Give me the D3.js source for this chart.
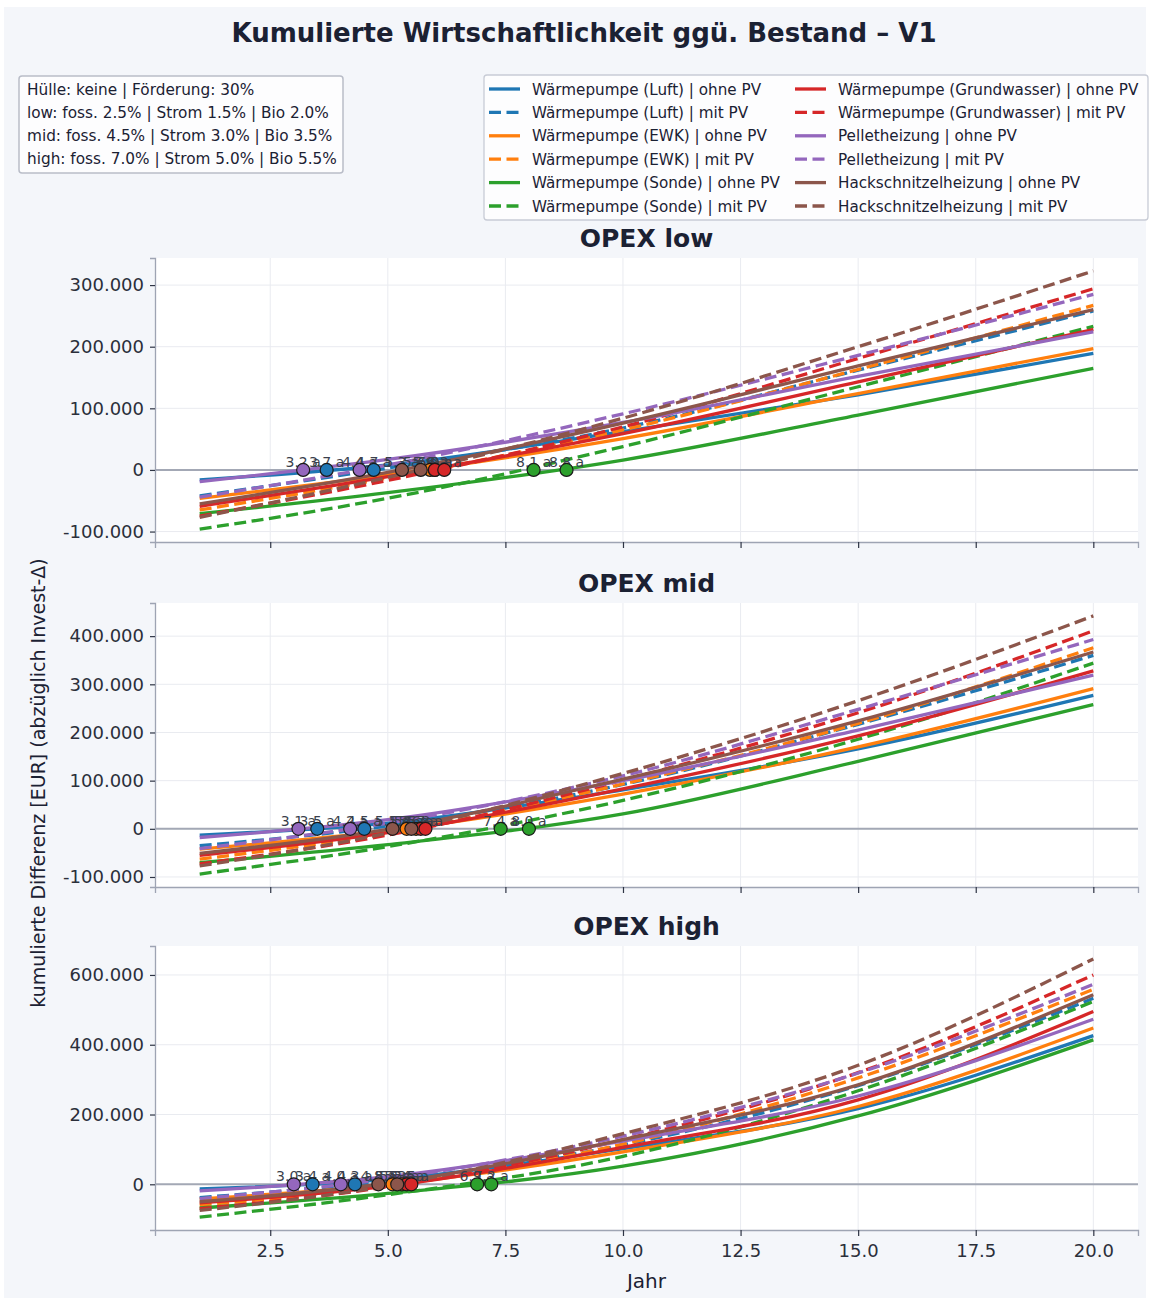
<!DOCTYPE html>
<html>
<head>
<meta charset="utf-8">
<script src="https://cdn.jsdelivr.net/npm/d3@7"></script>
<style>
  body { margin: 0; background: #fff; }
  svg { display: block; font-family: "DejaVu Sans", sans-serif; }
</style>
</head>
<body>
<svg id="chart"></svg>
<script>
// --- data (values in 1000 EUR) ---
const years = [1, 5, 10, 15, 20];
const systems = ['Wärmepumpe (Luft)', 'Wärmepumpe (EWK)', 'Wärmepumpe (Sonde)',
  'Wärmepumpe (Grundwasser)', 'Pelletheizung', 'Hackschnitzelheizung'];
const pvVariants = ['ohne PV', 'mit PV'];
const scenarioNames = ['OPEX low', 'OPEX mid', 'OPEX high'];
const infoLines = [
  'Hülle: keine | Förderung: 30%',
  'low: foss. 2.5% | Strom 1.5% | Bio 2.0%',
  'mid: foss. 4.5% | Strom 3.0% | Bio 3.5%',
  'high: foss. 7.0% | Strom 5.0% | Bio 5.5%'
];

// rows: system x variant (ohne, mit), columns: years
const opexLow = [
  [-16, 8, 62, 122, 189],
  [-42, 3, 68, 162, 258],
  [-46, -8, 51, 124, 197],
  [-65, -13, 65, 163, 267],
  [-71, -37, 16, 89, 165],
  [-96, -46, 38, 135, 233],
  [-59, -11, 59, 143, 228],
  [-75, -17, 70, 181, 294],
  [-19, 17, 77, 152, 224],
  [-44, 8, 91, 186, 285],
  [-55, -4, 76, 169, 260],
  [-77, -12, 84, 200, 323]
];
const opexMid = [
  [-13, 12, 81, 166, 277],
  [-35, 6, 92, 217, 360],
  [-42, -4, 72, 170, 291],
  [-63, -9, 93, 219, 376],
  [-70, -33, 31, 140, 258],
  [-94, -37, 59, 186, 344],
  [-55, -8, 83, 193, 328],
  [-73, -13, 101, 241, 411],
  [-18, 19, 100, 205, 319],
  [-41, 12, 110, 248, 393],
  [-51, -1, 103, 224, 367],
  [-77, -9, 115, 266, 442]
];
const opexHigh = [
  [-13, 14, 102, 217, 426],
  [-38, 10, 113, 283, 533],
  [-42, -1, 93, 223, 448],
  [-60, -4, 115, 305, 559],
  [-68, -26, 52, 196, 414],
  [-94, -30, 80, 268, 524],
  [-53, -5, 106, 242, 495],
  [-70, -7, 128, 320, 600],
  [-19, 22, 124, 253, 473],
  [-41, 16, 138, 319, 573],
  [-50, 3, 128, 285, 543],
  [-75, -4, 145, 341, 646]
];

// amortisation year (crossing of zero), same row order
const breakEvenLow = [3.7, 4.7, 5.9, 6.0, 8.8, 8.1, 6.0, 6.2, 3.2, 4.4, 5.3, 5.7];
const breakEvenMid = [3.5, 4.5, 5.4, 5.6, 8.0, 7.4, 5.7, 5.8, 3.1, 4.2, 5.1, 5.5];
const breakEvenHigh = [3.4, 4.3, 5.1, 5.3, 7.2, 6.9, 5.4, 5.5, 3.0, 4.0, 4.8, 5.2];

const colors = ['#1f77b4', '#ff7f0e', '#2ca02c', '#d62728', '#9467bd', '#8c564b'];

const W = 1150, H = 1301;
const svg = d3.select('#chart').attr('width', W).attr('height', H);

svg.append('rect')
  .attr('x', 4).attr('y', 7).attr('width', W - 8).attr('height', H - 10)
  .attr('fill', '#f4f6fa');

const de = d3.formatLocale({ decimal: ',', thousands: '.', grouping: [3], currency: ['', ' €'], minus: '-' });
const fmtY = de.format(',.0f');
const fmtX = d3.format('.1f');

const series = [];
systems.forEach((s, i) => pvVariants.forEach((v, j) => {
  series.push({ name: `${s} | ${v}`, color: colors[i], dashed: j === 1 });
}));

const panels = [
  { title: scenarioNames[0], values: opexLow, be: breakEvenLow, top: 258 },
  { title: scenarioNames[1], values: opexMid, be: breakEvenMid, top: 603 },
  { title: scenarioNames[2], values: opexHigh, be: breakEvenHigh, top: 946 }
];
const left = 155, right = 1138, ph = 284;
const dash = '12,5.5';

const x = d3.scaleLinear().domain([0.05, 20.95]).range([left, right]);
const xTicks = [2.5, 5, 7.5, 10, 12.5, 15, 17.5, 20];

panels.forEach((p, pi) => {
  const all = p.values.flat().map(v => v * 1000);
  const [lo, hi] = d3.extent(all);
  const pad = (hi - lo) * 0.05;
  const y = d3.scaleLinear().domain([lo - pad, hi + pad]).range([p.top + ph, p.top]);
  const g = svg.append('g');

  g.append('rect')
    .attr('x', left).attr('y', p.top).attr('width', right - left).attr('height', ph)
    .attr('fill', '#fff');

  // grid
  g.selectAll('.gx').data(xTicks).join('line')
    .attr('x1', d => x(d)).attr('x2', d => x(d))
    .attr('y1', p.top).attr('y2', p.top + ph)
    .attr('stroke', '#e9ebf0').attr('stroke-width', 1);
  g.selectAll('.gy').data(y.ticks(5)).join('line')
    .attr('x1', left).attr('x2', right)
    .attr('y1', d => y(d)).attr('y2', d => y(d))
    .attr('stroke', '#e9ebf0').attr('stroke-width', 1);

  // zero line
  g.append('line')
    .attr('x1', left).attr('x2', right)
    .attr('y1', y(0)).attr('y2', y(0))
    .attr('stroke', '#a3a8b5').attr('stroke-width', 2);

  const line = d3.line()
    .x((d, i) => x(years[i]))
    .y(d => y(d * 1000))
    .curve(d3.curveMonotoneX);

  g.selectAll('.series').data(series).join('path')
    .attr('d', (d, i) => line(p.values[i]))
    .attr('fill', 'none')
    .attr('stroke', d => d.color)
    .attr('stroke-width', 3.3)
    .attr('stroke-dasharray', d => d.dashed ? dash : null);

  // break-even labels and markers
  g.selectAll('.belabel').data(series).join('text')
    .attr('x', (d, i) => x(p.be[i]))
    .attr('y', y(0) - 3)
    .attr('text-anchor', 'middle')
    .attr('font-size', 14)
    .attr('fill', '#3a3f4c')
    .text((d, i) => `${fmtX(p.be[i])} a`);
  g.selectAll('.bemark').data(series).join('circle')
    .attr('cx', (d, i) => x(p.be[i]))
    .attr('cy', y(0))
    .attr('r', 6.5)
    .attr('fill', d => d.color)
    .attr('stroke', '#1a1a1a')
    .attr('stroke-width', 1.2);

  // axes
  const yAxis = d3.axisLeft(y).ticks(5).tickFormat(fmtY).tickSize(5).tickPadding(6);
  const ya = g.append('g').attr('transform', `translate(${left},0)`).call(yAxis);
  const xAxis = d3.axisBottom(x).tickValues(xTicks).tickFormat(pi === 2 ? fmtX : '').tickSize(6).tickPadding(8);
  const xa = g.append('g').attr('transform', `translate(0,${p.top + ph})`).call(xAxis);
  [ya, xa].forEach(a => {
    a.select('.domain').attr('stroke', '#9ea4b3').attr('stroke-width', 1.3);
    a.selectAll('.tick line').attr('stroke', '#2e3444').attr('stroke-width', 1.2);
    a.selectAll('.tick text').attr('font-size', 18).attr('fill', '#2b2f3a')
      .attr('font-family', '"DejaVu Sans", sans-serif');
  });

  svg.append('text')
    .attr('x', (left + right) / 2).attr('y', p.top - 11)
    .attr('text-anchor', 'middle')
    .attr('font-size', 25).attr('font-weight', 'bold').attr('fill', '#1b2133')
    .text(p.title);
});

// title
svg.append('text')
  .attr('x', 584).attr('y', 42)
  .attr('text-anchor', 'middle')
  .attr('font-size', 26).attr('font-weight', 'bold').attr('fill', '#1b2133')
  .text('Kumulierte Wirtschaftlichkeit ggü. Bestand – V1');

// axis labels
svg.append('text')
  .attr('transform', 'translate(45,783) rotate(-90)')
  .attr('text-anchor', 'middle')
  .attr('font-size', 19).attr('fill', '#1b2133')
  .text('kumulierte Differenz [EUR] (abzüglich Invest-Δ)');
svg.append('text')
  .attr('x', (left + right) / 2).attr('y', 1288)
  .attr('text-anchor', 'middle')
  .attr('font-size', 20).attr('fill', '#1b2133')
  .text('Jahr');

// info box
const info = svg.append('g');
info.append('rect')
  .attr('x', 19).attr('y', 76).attr('width', 324).attr('height', 97).attr('rx', 3)
  .attr('fill', '#fdfdfe').attr('stroke', '#b9bdc8').attr('stroke-width', 1.5);
info.selectAll('text').data(infoLines).join('text')
  .attr('x', 27).attr('y', (d, i) => 94.5 + i * 23.3)
  .attr('font-size', 15.3).attr('fill', '#1b2133')
  .text(d => d);

// legend
const leg = svg.append('g');
leg.append('rect')
  .attr('x', 484).attr('y', 75).attr('width', 664).attr('height', 145).attr('rx', 3)
  .attr('fill', '#fdfdfe').attr('stroke', '#c8ccd6').attr('stroke-width', 1.3);
const items = leg.selectAll('.item').data(series).join('g')
  .attr('transform', (d, i) => `translate(${i < 6 ? 489 : 795},${89 + (i % 6) * 23.4})`);
items.append('line')
  .attr('x1', 0).attr('x2', 31).attr('y1', 0).attr('y2', 0)
  .attr('stroke', d => d.color).attr('stroke-width', 3.3)
  .attr('stroke-dasharray', d => d.dashed ? dash : null);
items.append('text')
  .attr('x', 43).attr('y', 5.5)
  .attr('font-size', 15.2).attr('fill', '#1b2133')
  .text(d => d.name);
</script>
</body>
</html>
